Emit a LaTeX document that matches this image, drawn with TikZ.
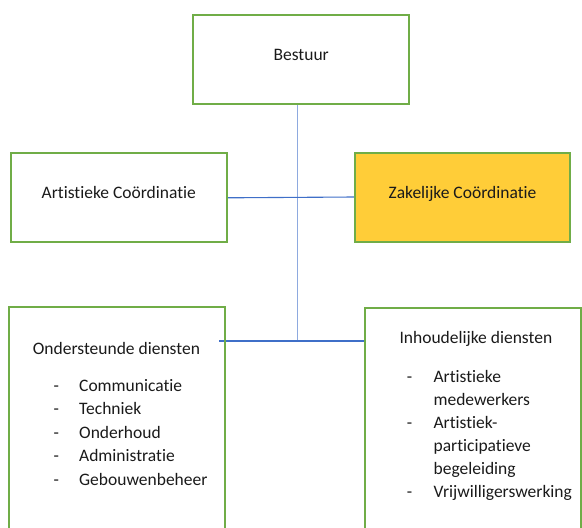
\documentclass[tikz,border=0pt]{standalone}
\usepackage{fontspec}
\setmainfont[Ligatures={NoCommon}]{Carlito}
\usetikzlibrary{backgrounds}
\definecolor{boxgreen}{HTML}{70AD47}
\definecolor{zakyellow}{HTML}{FFCD38}
\definecolor{linkblue}{HTML}{3F6FC8}
\definecolor{stemblue}{HTML}{8EAADF}
\definecolor{txtblack}{HTML}{1A1A1A}
\begin{document}
\begin{tikzpicture}[x=1pt,y=-1pt,
  box/.style={draw=boxgreen, line width=2pt, minimum width=215.5pt, minimum height=89pt,
    inner sep=0pt, text=txtblack, font=\fontsize{17.5}{21}\selectfont, text height=7pt, text depth=5pt},
  bigbox/.style={draw=boxgreen, line width=2pt, minimum width=215.5pt, minimum height=240pt,
    inner sep=0pt, anchor=north west},
  txt/.style={inner sep=0pt, text=txtblack, font=\fontsize{17.5}{23.5}\selectfont},
  link/.style={draw=linkblue, line width=1.1pt},
  stem/.style={draw=stemblue, line width=1.4pt}]
\useasboundingbox (0,0) rectangle (582,528);
\clip (0,0) rectangle (582,528);

\node[box] (bestuur) at (301.2,59) {Bestuur};
\node[box] (art) at (118.8,197.8) {Artistieke Coördinatie};
\node[box, fill=zakyellow, minimum width=215pt] (zak) at (462.5,197) {Zakelijke Coördinatie};

\node[bigbox] (ond) at (8.3,305.7) {};
\node[bigbox] (inh) at (364,307.3) {};

\node[txt, anchor=base west] (ondT) at (32.7,354.3) {Ondersteunde diensten};
\node[txt, anchor=base west] (ondL) at (53.5,391) {\begin{tabular}[t]{@{}p{25.5pt}@{}l@{}}
-&Communicatie\\
-&Techniek\\
-&Onderhoud\\
-&Administratie\\
-&Gebouwenbeheer
\end{tabular}};

\node[txt, anchor=base west] (inhT) at (399.3,343.3) {Inhoudelijke diensten};
\node[txt, font=\fontsize{17.5}{23}\selectfont, anchor=base west] (inhL) at (406.7,382.7) {\begin{tabular}[t]{@{}p{26.7pt}@{}l@{}}
-&Artistieke\\
&medewerkers\\
-&Artistiek-\\
&participatieve\\
&begeleiding\\
-&Vrijwilligerswerking
\end{tabular}};

\coordinate (jc) at (297.7,341);
\coordinate (jl) at (219,341);
\begin{scope}[on background layer]
\draw[stem] (bestuur.south -| jc) -- (jc);
\draw[link] (art.east) -- (zak.west);
\draw[link] (jl) -- (inh.west |- jl);
\end{scope}
\end{tikzpicture}
\end{document}
